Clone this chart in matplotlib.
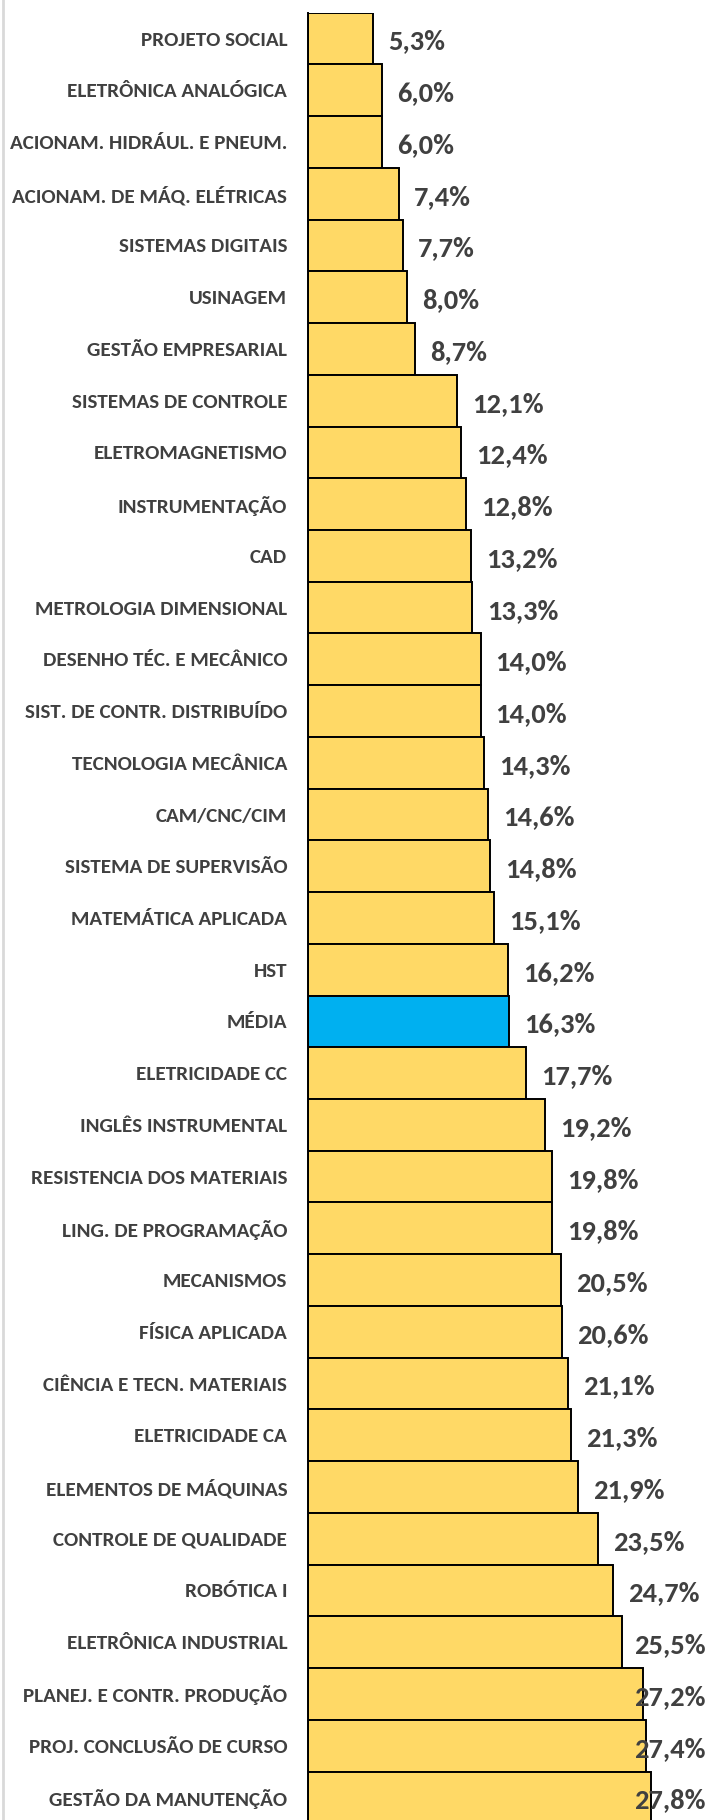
import matplotlib
matplotlib.use("Agg")
from matplotlib import pyplot as plt

# Disciplinas (de cima para baixo) e percentuais
disciplinas = [
    "PROJETO SOCIAL", "ELETRÔNICA ANALÓGICA", "ACIONAM. HIDRÁUL. E PNEUM.",
    "ACIONAM. DE MÁQ. ELÉTRICAS", "SISTEMAS DIGITAIS", "USINAGEM",
    "GESTÃO EMPRESARIAL", "SISTEMAS DE CONTROLE", "ELETROMAGNETISMO",
    "INSTRUMENTAÇÃO", "CAD", "METROLOGIA DIMENSIONAL",
    "DESENHO TÉC. E MECÂNICO", "SIST. DE CONTR. DISTRIBUÍDO", "TECNOLOGIA MECÂNICA",
    "CAM/CNC/CIM", "SISTEMA DE SUPERVISÃO", "MATEMÁTICA APLICADA",
    "HST", "MÉDIA", "ELETRICIDADE CC",
    "INGLÊS INSTRUMENTAL", "RESISTENCIA DOS MATERIAIS", "LING. DE PROGRAMAÇÃO",
    "MECANISMOS", "FÍSICA APLICADA", "CIÊNCIA E TECN. MATERIAIS",
    "ELETRICIDADE CA", "ELEMENTOS DE MÁQUINAS", "CONTROLE DE QUALIDADE",
    "ROBÓTICA I", "ELETRÔNICA INDUSTRIAL", "PLANEJ. E CONTR. PRODUÇÃO",
    "PROJ. CONCLUSÃO DE CURSO", "GESTÃO DA MANUTENÇÃO",
]
percentuais = [
    5.3, 6.0, 6.0, 7.4, 7.7, 8.0, 8.7, 12.1, 12.4, 12.8, 13.2, 13.3,
    14.0, 14.0, 14.3, 14.6, 14.8, 15.1, 16.2, 16.3, 17.7, 19.2, 19.8, 19.8,
    20.5, 20.6, 21.1, 21.3, 21.9, 23.5, 24.7, 25.5, 27.2, 27.4, 27.8,
]
destaque = "MÉDIA"

COR_BARRA = "#FFD966"
COR_MEDIA = "#00B0F0"
COR_TEXTO = "#404040"

# Carlito tem as mesmas metricas da Calibri
plt.rcParams["font.family"] = ["Carlito", "DejaVu Sans"]

W, H = 707, 1820
fig = plt.figure(figsize=(W / 100, H / 100), dpi=100)

# area do grafico em pixels
left_px, top_px, pitch = 308.0, 12.7, 51.73
n = len(disciplinas)
alt = n * pitch
ax = fig.add_axes([left_px / W, (H - top_px - alt) / H, (W - left_px) / W, alt / H])

cores = [COR_MEDIA if d == destaque else COR_BARRA for d in disciplinas]
ax.barh(range(n), percentuais, height=1.0, color=cores, edgecolor="black",
        linewidth=1.4, zorder=2)

ax.set_ylim(n - 0.5, -0.5)
ax.set_xlim(0, (W - left_px) / 12.33)
ax.set_yticks(range(n))
ax.set_yticklabels(disciplinas, fontsize=15.2, fontweight="bold", color=COR_TEXTO)
ax.tick_params(axis="y", length=0, pad=15)
ax.set_xticks([])
for lado in ["top", "right", "bottom"]:
    ax.spines[lado].set_visible(False)
ax.spines["left"].set_color("black")
ax.spines["left"].set_linewidth(1.4)

# rotulos de valor, presos dentro da figura
rotulos = []
for i, v in enumerate(percentuais):
    t = ax.annotate(f"{v:.1f}%".replace(".", ","), xy=(v, i), xytext=(15, -3),
                    textcoords="offset pixels", ha="left", va="center",
                    fontsize=20.5, fontweight="bold", color=COR_TEXTO, zorder=3,
                    annotation_clip=False)
    rotulos.append(t)

fig.canvas.draw()
ren = fig.canvas.get_renderer()
for t in rotulos:
    bb = t.get_window_extent(ren)
    if bb.x1 > W - 1:
        dx = bb.x1 - (W - 1)
        ox, oy = t.xyann
        t.xyann = (ox - dx, oy)

# borda cinza da area do grafico
fig.add_artist(plt.Line2D([3 / W, 3 / W], [0, 1], color="#D9D9D9", linewidth=2,
                          transform=fig.transFigure))

fig.savefig("out.png", dpi=100)
